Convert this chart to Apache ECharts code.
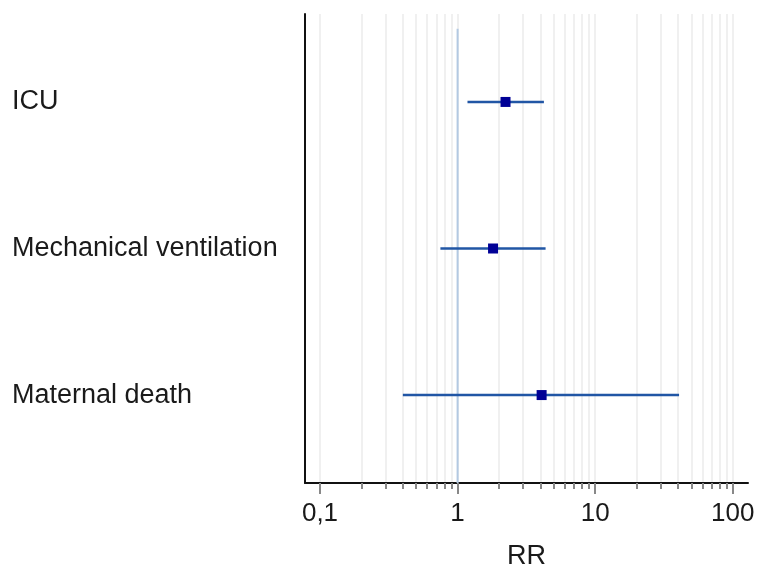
<!DOCTYPE html>
<html>
<head>
<meta charset="utf-8">
<script src="https://cdn.jsdelivr.net/npm/echarts@6/dist/echarts.min.js"></script>
<style>html,body{margin:0;padding:0;background:#fff;}#c{width:757px;height:568px;}</style>
</head>
<body>
<div id="c"></div>
<script>
var categories = ['ICU', 'Mechanical ventilation', 'Maternal death'];
var rr = [2.23, 1.81, 4.08];
var lower = [1.18, 0.75, 0.40];
var upper = [4.24, 4.36, 40.7];
var majorTickValues = [0.1, 1, 10, 100];
var tickLabels = ['0,1', '1', '10', '100'];
var minorTickValues = [0.1,0.2,0.3,0.4,0.5,0.6,0.7,0.8,0.9,1,2,3,4,5,6,7,8,9,10,20,30,40,50,60,70,80,90,100];
var rowPositions = [1, 2, 3];

var font = '"Liberation Sans", Arial, sans-serif';
var xMin = 0.0778, xMax = 129;

var chart = echarts.init(document.getElementById('c'), null, {renderer: 'canvas'});

var ciData = categories.map(function (c, i) { return [lower[i], upper[i], rowPositions[i]]; });
var pointData = categories.map(function (c, i) { return [rr[i], rowPositions[i]]; });

chart.setOption({
  animation: false,
  grid: {left: 305, right: 9, top: 14, bottom: 85, containLabel: false, outerBoundsMode: 'none'},
  xAxis: [{
    type: 'log', logBase: 10, min: xMin, max: xMax,
    position: 'bottom',
    name: 'RR', nameLocation: 'middle', nameGap: 60,
    nameTextStyle: {fontSize: 27, color: '#1a1a1a', fontFamily: font},
    axisLine: {show: true, onZero: false, lineStyle: {color: '#111', width: 2}},
    axisTick: {show: true, customValues: minorTickValues, length: 6, lineStyle: {color: '#888', width: 2}},
    axisLabel: {show: true, customValues: majorTickValues, margin: 18, fontSize: 26, color: '#1a1a1a', fontFamily: font,
      formatter: function (v) {
        for (var i = 0; i < majorTickValues.length; i++) {
          if (Math.abs(Math.log10(v) - Math.log10(majorTickValues[i])) < 1e-6) return tickLabels[i];
        }
        return '';
      }},
    splitLine: {show: true, lineStyle: {color: '#ebebeb', width: 1.5}}
  }, {
    type: 'log', logBase: 10, min: xMin, max: xMax,
    position: 'bottom',
    axisLine: {show: false, onZero: false},
    axisTick: {show: true, customValues: majorTickValues, length: 11, lineStyle: {color: '#888', width: 2}},
    axisLabel: {show: false},
    splitLine: {show: false}
  }],
  yAxis: {
    type: 'value', min: 0.4, max: 3.6, inverse: true,
    axisLine: {show: true, onZero: false, lineStyle: {color: '#111', width: 2}},
    axisTick: {show: false},
    splitLine: {show: false},
    axisLabel: {show: true, customValues: rowPositions, align: 'left', margin: 293, fontSize: 27, color: '#1a1a1a', fontFamily: font,
      padding: [6, 0, 0, 0],
      formatter: function (v) {
        var idx = rowPositions.indexOf(Math.round(v));
        return idx >= 0 ? categories[idx] : '';
      }}
  },
  series: [{
    type: 'line',
    xAxisIndex: 0,
    data: [[1, 0.5], [1, 3.6]],
    symbol: 'none',
    lineStyle: {color: '#b3c9e2', width: 2},
    silent: true,
    z: 1
  }, {
    type: 'custom',
    xAxisIndex: 0,
    data: ciData,
    renderItem: function (params, api) {
      var p1 = api.coord([api.value(0), api.value(2)]);
      var p2 = api.coord([api.value(1), api.value(2)]);
      return {
        type: 'line',
        shape: {x1: p1[0], y1: p1[1], x2: p2[0], y2: p2[1]},
        style: {stroke: '#2156a5', lineWidth: 2.5}
      };
    },
    encode: {x: [0, 1], y: 2},
    z: 2
  }, {
    type: 'scatter',
    xAxisIndex: 0,
    data: pointData,
    symbol: 'rect',
    symbolSize: 10,
    itemStyle: {color: '#000096', opacity: 1},
    z: 3
  }]
});
</script>
</body>
</html>
